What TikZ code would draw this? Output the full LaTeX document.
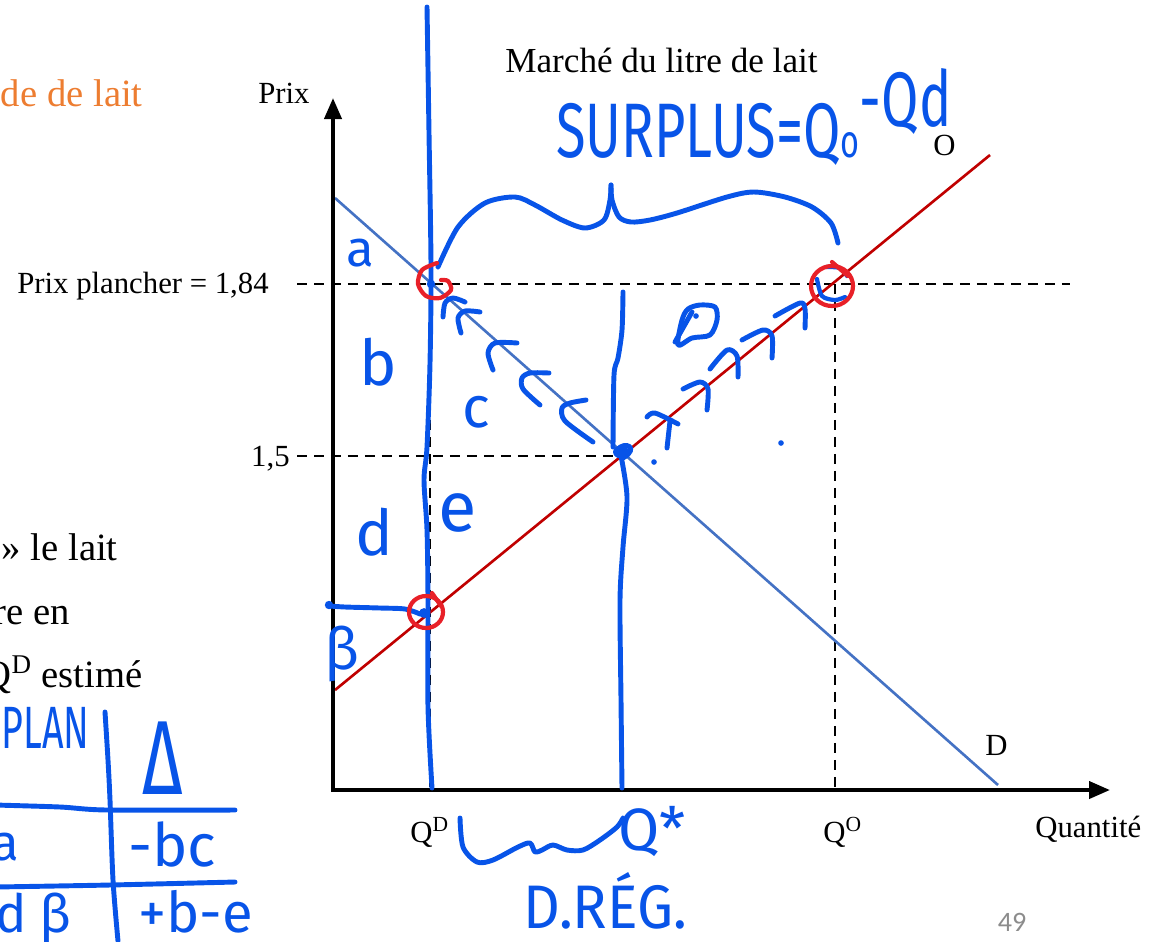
\documentclass[tikz,border=0pt]{standalone}
\usepackage{fontspec}
\setmainfont{Liberation Serif}
\newfontfamily\handfont{Fira Sans}
\newfontfamily\slidefont{Carlito}
\usetikzlibrary{arrows.meta}
\definecolor{demblue}{HTML}{4472C4}
\definecolor{supred}{HTML}{C00000}
\definecolor{penblue}{RGB}{8,84,232}
\definecolor{penred}{RGB}{232,32,40}
\definecolor{slideorange}{HTML}{ED7D31}
\newcommand{\penfont}[1]{\handfont\fontsize{#1}{#1}\selectfont}
\newcommand{\txtfont}[1]{\fontsize{#1}{#1}\selectfont}

\begin{document}
\begin{tikzpicture}[x=0.02cm,y=-0.02cm,
  axis/.style={line width=0.08cm,line join=miter,{Triangle[length=0.42cm,width=0.34cm]}-{Triangle[length=0.42cm,width=0.34cm]}},
  guide/.style={line width=1.5pt,dash pattern=on 0.2cm off 0.14cm},
  curve/.style={line width=1.5pt},
  lbl/.style={font=\txtfont{17.5},inner sep=0},
  pen/.style={penblue,line width=2.8pt,line cap=round,line join=round},
  redpen/.style={penred,line width=2.4pt,line cap=round,line join=round},
  hand/.style={text=penblue,inner sep=0}]
\useasboundingbox (0,0) rectangle (1155,941);

% points of the graph
\coordinate (orig) at (333,790);
\coordinate (ytop) at (333,98);
\coordinate (xend) at (1110,790);
\coordinate (dA) at (335,198);
\coordinate (dB) at (998,785);
\coordinate (sA) at (335,690);
\coordinate (sB) at (990,155);
\coordinate (pf0) at (297,284);
\coordinate (pf1) at (1070,284);
\coordinate (pe0) at (297,456);
\coordinate (eq) at (622,456);
\coordinate (qdtop) at (430,284);
\coordinate (qd) at (430,790);
\coordinate (qotop) at (835,284);
\coordinate (qo) at (835,790);

% slide text, cut at the left
\node[text=slideorange,font=\txtfont{22},inner sep=0,anchor=base east] (titre) at (143,106) {de de lait};
\node[font=\txtfont{22},inner sep=0,anchor=base east] (ligne1) at (118,560) {» le lait};
\node[font=\txtfont{22},inner sep=0,anchor=base east] (ligne2) at (70,624) {re en};
\node[font=\txtfont{22},inner sep=0,anchor=base east] (ligne3) at (143,687) {Q\textsuperscript{D} estimé};

% graph
\draw[guide] (pf0) -- (pf1);
\draw[guide] (pe0) -- (eq);
\draw[guide] (qdtop) -- (qd);
\draw[guide] (qotop) -- (qo);
\draw[curve,demblue] (dA) -- (dB);
\draw[curve,supred] (sA) -- (sB);
\draw[axis] (ytop) -- (orig) -- (xend);

\node[lbl,font=\txtfont{20},anchor=base west] (marche) at (505,72) {Marché du litre de lait};
\node[lbl,anchor=base west] (prix) at (258,103) {Prix};
\node[lbl,anchor=base east] (plancher) at (269,293) {Prix plancher = 1,84};
\node[lbl,anchor=base east] (p15) at (290,466) {1,5};
\node[lbl,anchor=base west] (offre) at (933,155) {O};
\node[lbl,anchor=base west] (demande) at (985,755) {D};
\node[lbl,anchor=base west] (lqd) at (410,842) {Q\textsuperscript{D}};
\node[lbl,anchor=base west] (lqo) at (823,842) {Q\textsuperscript{O}};
\node[lbl,anchor=base west] (quant) at (1035,837) {Quantité};
\node[font=\slidefont\fontsize{16}{16}\selectfont,text=black!45,inner sep=0] (page) at (1012,922) {49};

% pen: vertical lines
\draw[pen] plot[smooth] coordinates {(427,7) (429,133) (431,267) (430,363) (427,447) (424,480) (427,530) (428,600) (428,707) (432,788)};
\draw[pen] plot[smooth] coordinates {(623,292) (622,330) (618,358) (614,375) (613,447)};
\draw[pen] plot[smooth] coordinates {(621,456) (627,497) (623,547) (620,600) (621,700) (622,788)};

% pen: brace and surplus
\draw[pen] plot[smooth] coordinates {(438,267) (458,227) (485,203) (515,197) (535,205) (562,220) (585,228) (604,220) (610,200) (611,185)};
\draw[pen] plot[smooth] coordinates {(611,185) (612,200) (619,217) (631,222) (650,220) (677,213) (727,197) (754,192) (785,197) (812,207) (831,223) (838,243)};
\node[hand,anchor=base west,font=\penfont{44}] (surplus) at (556,157) {\scalebox{0.7}[1]{SURPLUS=Q\scalebox{0.6}{o}\raisebox{0.62cm}{-Qd}}};

% pen: area letters
\node[hand,font=\penfont{29}] (la) at (360,253) {a};
\node[hand,font=\penfont{36}] (lb) at (378,362) {b};
\node[hand,font=\penfont{33}] (lc) at (476,412) {c};
\node[hand,font=\penfont{36}] (ld) at (374,532) {d};
\node[hand,font=\penfont{40}] (le) at (458,513) {e};
\node[hand,font=\penfont{33}] (lbeta) at (342,654) {β};

% pen: marks along the demand line
\draw[pen] plot[smooth] coordinates {(443,317) (445,303) (453,298) (465,302)};
\draw[pen] plot[smooth] coordinates {(461,333) (458,318) (465,311) (480,312)};
\draw[pen] plot[smooth] coordinates {(493,370) (488,353) (495,343) (517,343)};
\draw[pen] plot[smooth] coordinates {(540,405) (523,389) (522,378) (530,373) (549,373)};
\draw[pen] plot[smooth] coordinates {(593,442) (565,421) (562,408) (570,403) (586,400)};

% pen: marks along the supply line
\draw[pen] plot[smooth] coordinates {(647,417) (655,413) (678,424)};
\draw[pen] (670,421) -- (667,448);
\draw[pen] plot[smooth] coordinates {(683,389) (700,382) (708,389) (707,410)};
\draw[pen] plot[smooth] coordinates {(710,369) (727,350) (737,356) (738,377)};
\draw[pen] plot[smooth] coordinates {(742,340) (763,330) (772,336) (772,358)};
\draw[pen] plot[smooth] coordinates {(775,316) (800,303) (805,309) (805,328)};

% pen: small shape and dots
\draw[pen] plot[smooth cycle] coordinates {(678,345) (682,320) (688,309) (700,305) (715,307) (717,320) (710,335) (692,338)};
\draw[pen] (675,342) -- (692,312);
\fill[penblue] (696,316) circle[radius=1.6pt];
\fill[penblue] (654,462) circle[radius=1.6pt];
\fill[penblue] (781,443) circle[radius=1.6pt];
\fill[penblue] (621,452) ellipse[x radius=0.16cm,y radius=0.13cm];
\draw[pen] (617,450) .. controls (625,440) and (640,448) .. (623,458);
\fill[penblue] (431,284) circle[radius=2.4pt];
\fill[penblue] (424,613) circle[radius=2.8pt];

% pen: price line at the left
\draw[pen] plot[smooth] coordinates {(330,606) (345,607) (380,608) (405,609) (420,614)};
\fill[penblue] (329,605) circle[radius=2.4pt];

% red circles
\draw[redpen] plot[smooth] coordinates {(437,263) (422,270) (418,284) (426,296) (440,298) (451,290) (448,281) (441,280)};
\draw[redpen] (426,612) ellipse[x radius=0.34cm,y radius=0.32cm];
\draw[redpen] (432,593) -- (441,606);
\draw[penblue,line width=2.4pt,line cap=round] plot[smooth] coordinates {(817,279) (822,296) (835,300) (845,297)};
\draw[penblue,line width=2.4pt,line cap=round] plot[smooth] coordinates {(826,267) (840,268) (847,276)};
\draw[redpen] (832,286) ellipse[x radius=0.42cm,y radius=0.4cm];
\draw[redpen] (832,262) -- (848,276);

% pen: below the axis
\draw[pen] plot[smooth] coordinates {(460,818) (463,847) (477,862) (493,860) (518,847) (530,843) (535,852) (542,850) (553,845) (567,850) (583,850) (600,840) (617,827) (623,818)};
\node[hand,anchor=base west,font=\penfont{34}] (qstar) at (618,850) {Q*};
\node[hand,anchor=base west,font=\penfont{35}] (dreg) at (523,928) {\scalebox{0.93}[1]{D.RÉG.}};

% pen: table
\draw[pen] plot[smooth] coordinates {(105,712) (108,760) (110,800) (113,880) (118,941)};
\draw[pen] plot[smooth] coordinates {(-5,805) (60,807) (107,810) (235,810)};
\draw[pen] plot[smooth] coordinates {(-5,887) (110,885) (235,882)};
\node[hand,anchor=base east,font=\penfont{34}] (plan) at (90,748) {\scalebox{0.63}[1]{PLAN}};
\node[hand,font=\penfont{60}] (delta) at (163,758) {\scalebox{0.66}[1]{Δ}};
\node[hand,anchor=base east,font=\penfont{29}] (ta) at (20,860) {a};
\node[hand,anchor=base west,font=\penfont{34}] (tbc) at (128,866) {-bc};
\node[hand,anchor=base east,font=\penfont{30}] (tdb) at (72,932) {od\hspace{0.25em}β};
\node[hand,anchor=base west,font=\penfont{32}] (tbe) at (138,932) {+b-e};
\end{tikzpicture}
\end{document}
